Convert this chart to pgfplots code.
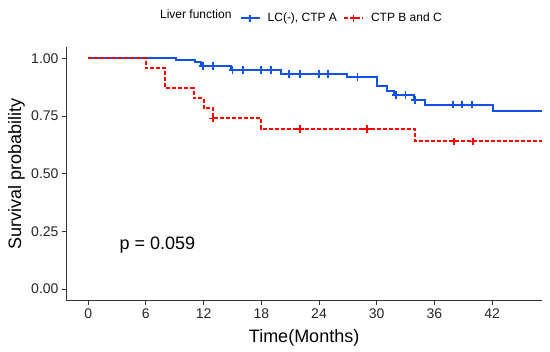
\documentclass[border=0pt]{standalone}
\usepackage{fontspec}
\setmainfont{Liberation Sans}
\usepackage{pgfplots}
\pgfplotsset{compat=1.18}
\definecolor{kmblue}{RGB}{16,82,230}
\definecolor{kmred}{RGB}{255,0,0}
\begin{document}
\begin{tikzpicture}[x=1pt,y=1pt]
\path[use as bounding box] (0,0) rectangle (550,352);
\begin{axis}[
  at={(66.5pt,51.5pt)}, anchor=south west,
  scale only axis, width=475.2pt, height=253.7pt,
  xmin=-2.25, xmax=47.15, ymin=-0.05, ymax=1.05,
  axis x line*=bottom, axis y line*=left,
  axis line style={draw=black!80, line width=0.8pt, -},
  tick align=outside, major tick length=4.5pt,
  tick style={draw=black!80, line width=0.8pt},
  xtick={0,6,12,18,24,30,36,42},
  ytick={0,0.25,0.5,0.75,1},
  yticklabels={0.00,0.25,0.50,0.75,1.00},
  /pgf/number format/assume math mode=true,
  ticklabel style={font=\fontsize{14}{16}\selectfont, text=black!85},
  xlabel={Time(Months)}, ylabel={Survival probability},
  label style={font=\fontsize{18}{20}\selectfont},
  xlabel style={at={(axis description cs:0.5,-0.166)}, anchor=base},
  ylabel style={at={(axis description cs:-0.0953,0.5)}, anchor=base},
  clip=false,
  legend style={at={(axis description cs:0.364,1.112)}, anchor=base west, draw=none, fill=none,
    legend columns=-1, font=\fontsize{12}{14}\selectfont, inner sep=0pt,
    /tikz/every odd column/.append style={column sep=5pt},
    /tikz/every even column/.append style={column sep=4pt}},
  legend image code/.code={\draw[mark repeat=2,mark phase=2,#1] plot coordinates {(0pt,0pt) (9.5pt,0pt) (19pt,0pt)};},
]
\addlegendimage{kmblue, line width=2pt, mark=+, mark size=3.8pt, mark options={line width=1.8pt}}
\addlegendentry{LC(-), CTP A}
\addlegendimage{kmred, line width=2pt, dash pattern=on 4pt off 2pt, mark=+, mark size=3.8pt, mark options={solid, line width=1.8pt}}
\addlegendentry{CTP B and C}
% LC(-), CTP A
\addplot[kmblue, line width=2pt, const plot, mark=none, forget plot] coordinates {
(0,1) (9.1,0.994) (11.1,0.983) (11.7,0.968) (14.9,0.949) (20.1,0.932) (26.9,0.918) (30,0.880) (31.1,0.860) (31.8,0.840) (33.9,0.819) (35,0.799) (42.1,0.773) (47.15,0.773)};
\addplot[kmblue, only marks, mark=+, mark size=3.8pt, line width=1.8pt, forget plot] coordinates {
(11.9,0.968) (13,0.968) (15,0.949) (16.1,0.949) (18,0.949) (19,0.949)
(20.9,0.932) (22,0.932) (24,0.932) (24.9,0.932) (28,0.918)
(32,0.840) (33,0.840) (34,0.819) (37.9,0.799) (38.9,0.799) (39.9,0.799)};
% CTP B and C
\addplot[kmred, line width=2pt, dash pattern=on 4pt off 2pt, const plot, mark=none, forget plot] coordinates {
(0,1) (6,0.9565) (8,0.8696) (11,0.8261) (12,0.7826) (13,0.7391) (18,0.6929) (34,0.6396) (47.15,0.6396)};
\addplot[kmred, only marks, mark=+, mark size=3.8pt, line width=1.8pt, forget plot] coordinates {
(13,0.7391) (22,0.6929) (29,0.6929) (38,0.6396) (40,0.6396)};
\node[anchor=base east, inner sep=0pt, font=\fontsize{12}{14}\selectfont] at (axis description cs:0.3476,1.112) {Liver function};
\node[anchor=base west, inner sep=0pt, font=\fontsize{18}{20}\selectfont] at (axis cs:3.25,0.172) {p = 0.059};
\end{axis}
\end{tikzpicture}
\end{document}
